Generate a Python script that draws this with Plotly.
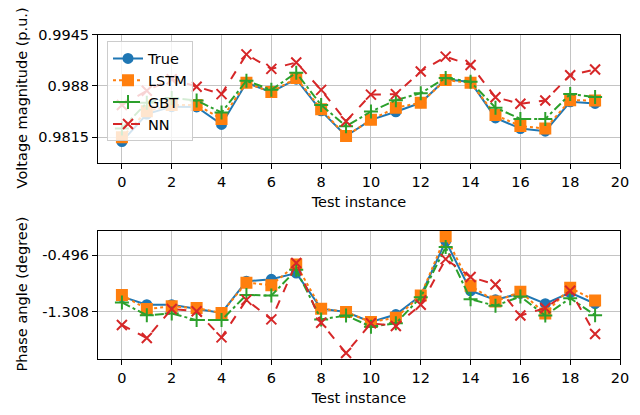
import plotly.graph_objects as go

x = list(range(20))

vm_true = [0.98096, 0.98444, 0.98538, 0.98534, 0.98313, 0.98840, 0.98722, 0.98886, 0.98485, 0.98166,
           0.98371, 0.98473, 0.98587, 0.98885, 0.98850, 0.98395, 0.98261, 0.98227, 0.98600, 0.98579]
vm_lstm = [0.98150, 0.98480, 0.98560, 0.98560, 0.98383, 0.98840, 0.98722, 0.98902, 0.98506, 0.98166,
           0.98371, 0.98525, 0.98587, 0.98874, 0.98840, 0.98432, 0.98292, 0.98261, 0.98620, 0.98616]
vm_gbt = [0.98261, 0.98587, 0.98648, 0.98616, 0.98464, 0.98865, 0.98751, 0.98967, 0.98558, 0.98289,
          0.98476, 0.98620, 0.98709, 0.98902, 0.98853, 0.98525, 0.98383, 0.98383, 0.98697, 0.98660]
vm_nn = [0.98558, 0.98739, 0.98886, 0.98791, 0.98697, 0.99200, 0.99016, 0.99098, 0.98751, 0.98354,
         0.98690, 0.98697, 0.98984, 0.99171, 0.99065, 0.98657, 0.98574, 0.98616, 0.98935, 0.99008]

pa_true = [-1.092, -1.209, -1.209, -1.271, -1.328, -0.871, -0.843, -0.754, -1.266, -1.314,
           -1.459, -1.351, -1.078, -0.293, -1.008, -1.139, -1.046, -1.195, -1.036, -1.195]
pa_lstm = [-1.068, -1.271, -1.233, -1.257, -1.328, -0.891, -0.927, -0.631, -1.266, -1.314,
           -1.459, -1.398, -1.078, -0.222, -0.937, -1.163, -1.022, -1.336, -0.966, -1.149]
pa_gbt = [-1.177, -1.360, -1.336, -1.431, -1.431, -1.068, -1.078, -0.707, -1.421, -1.365,
          -1.525, -1.477, -1.102, -0.378, -1.131, -1.224, -1.092, -1.365, -1.116, -1.360]
pa_nn = [-1.501, -1.689, -1.271, -1.304, -1.680, -1.139, -1.421, -0.609, -1.469, -1.906,
         -1.477, -1.515, -1.209, -0.552, -0.810, -0.919, -1.365, -1.257, -1.008, -1.632]

vm_ticks = [0.9815, 0.988, 0.9945]
vm_ticktext = ["0.9815", "0.988", "0.9945"]
pa_ticks = [-1.308, -0.496]
pa_ticktext = ["-1.308", "-0.496"]
x_ticks = list(range(0, 21, 2))

series = [
    ("True", "#1f77b4", "solid", "circle", 9),
    ("LSTM", "#ff7f0e", "dot", "square", 10),
    ("GBT", "#2ca02c", "dashdot", "cross-thin-open", 10),
    ("NN", "#d62728", "dash", "x-thin-open", 10),
]

# page offset compensation
DX, DY = 8, 14
H = 415
FS = 14.5


def fy(px):
    return 1 - (px - DY) / H


fig = go.Figure()
top_data = [vm_true, vm_lstm, vm_gbt, vm_nn]
bot_data = [pa_true, pa_lstm, pa_gbt, pa_nn]
for (name, color, dash, sym, size), yt, yb in zip(series, top_data, bot_data):
    mk = dict(symbol=sym, size=size, color=color, line=dict(color=color, width=2))
    fig.add_trace(go.Scatter(x=x, y=yt, name=name, mode="lines+markers",
                             line=dict(color=color, width=2, dash=dash), marker=mk,
                             xaxis="x", yaxis="y", showlegend=True))
    fig.add_trace(go.Scatter(x=x, y=yb, name=name, mode="lines+markers",
                             line=dict(color=color, width=2, dash=dash), marker=mk,
                             xaxis="x2", yaxis="y2", showlegend=False))

axis_common = dict(showline=True, mirror=True, linecolor="black", linewidth=1,
                   ticks="outside", ticklen=5, tickcolor="black", tickwidth=1,
                   showgrid=True, gridcolor="#c4c4c4", gridwidth=1, zeroline=False,
                   tickfont=dict(size=FS, color="black"))

fig.update_layout(
    width=640, height=H,
    margin=dict(l=98 - DX, r=640 - 522 - (98 - DX), t=0, b=0),
    plot_bgcolor="white", paper_bgcolor="white",
    font=dict(family="DejaVu Sans", size=FS, color="black"),
    xaxis=dict(domain=[0, 1], anchor="y", range=[-0.96, 20], tickvals=x_ticks, **axis_common,
               title=dict(text="Test instance", standoff=8, font=dict(size=FS))),
    yaxis=dict(domain=[fy(164), fy(33)], anchor="x", range=[0.97823, 0.9945],
               tickvals=vm_ticks, ticktext=vm_ticktext, **axis_common),
    xaxis2=dict(domain=[0, 1], anchor="y2", range=[-0.96, 20], tickvals=x_ticks, **axis_common,
                title=dict(text="Test instance", standoff=8, font=dict(size=FS))),
    yaxis2=dict(domain=[fy(364), fy(233)], anchor="x2", range=[-1.995, -0.144],
                tickvals=pa_ticks, ticktext=pa_ticktext, **axis_common),
    legend=dict(x=(107 - 98) / 522, y=fy(40), xanchor="left", yanchor="top",
                bgcolor="rgba(255,255,255,0.8)", bordercolor="#cccccc", borderwidth=1,
                font=dict(size=FS), tracegroupgap=0, itemwidth=30),
    annotations=[
        dict(text="Voltage magnitude (p.u.)", textangle=-90, xref="paper", yref="paper",
             x=-(98 - 22) / 522, y=fy(98), showarrow=False, font=dict(size=FS),
             xanchor="center", yanchor="middle"),
        dict(text="Phase angle (degree)", textangle=-90, xref="paper", yref="paper",
             x=-(98 - 22) / 522, y=fy(298), showarrow=False, font=dict(size=FS),
             xanchor="center", yanchor="middle"),
    ],
)

fig.write_html("out.html")
